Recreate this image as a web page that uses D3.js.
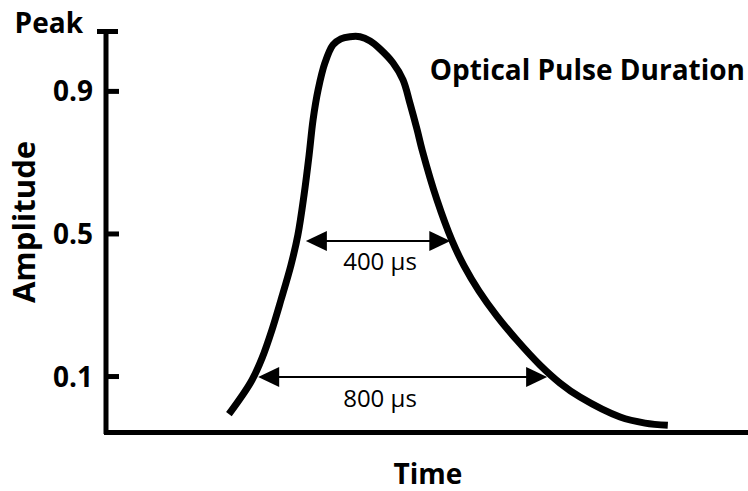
<!DOCTYPE html>
<html><head><meta charset="utf-8">
<script src="https://cdn.jsdelivr.net/npm/d3@7"></script>
<style>body{margin:0;background:#fff}svg{display:block}text{font-family:"Open Sans",sans-serif;fill:#000}</style>
</head><body>
<script>
// pulse curve: time (µs) and normalised amplitude
const timeUs = [343,377,407,435,462,487,515,534,551,565,576,590,609,631,653,678,706,734,761,797,825,844,864,878,919,961,994,1035,1085,1140,1204,1260,1315,1426,1495,1558];
const amplitude = [-0.007,0.041,0.089,0.151,0.229,0.313,0.412,0.496,0.608,0.72,0.819,0.903,0.979,1.029,1.046,1.052,1.052,1.04,1.018,0.979,0.931,0.866,0.791,0.734,0.594,0.479,0.409,0.339,0.268,0.201,0.131,0.08,0.041,-0.015,-0.032,-0.038];
const yTickValues = [0.1, 0.5, 0.9, 1.068];
const yTickLabels = ["0.1", "0.5", "0.9", "Peak"];
const widthLabels = ["400 µs", "800 µs"];
const widthStarts = [556, 424];
const widthDurations = [400, 800];
const widthLevels = [0.479, 0.097];
const titleText = "Optical Pulse Duration";
const xTitle = "Time", yTitle = "Amplitude";

const W = 748, H = 491;
const svg = d3.select("body").append("svg").attr("width", W).attr("height", H);
const x = d3.scaleLinear().domain([0, 1780]).range([105, 748]);
const y = d3.scaleLinear().domain([-0.057, 1.068]).range([432, 31]);

// curve
const pts = timeUs.map((t, i) => [t, amplitude[i]]);
svg.append("path").datum(pts)
  .attr("d", d3.line().x(d => x(d[0])).y(d => y(d[1])).curve(d3.curveCatmullRom.alpha(0.5)))
  .attr("fill", "none").attr("stroke", "#000").attr("stroke-width", 7);

// axes
const yAxis = d3.axisLeft(y).tickValues(yTickValues).tickSize(-13).tickPadding(13)
  .tickFormat((d, i) => yTickLabels[i]);
const gy = svg.append("g").attr("transform", "translate(106,0)").call(yAxis);
gy.select(".domain").remove();
gy.selectAll(".tick line").attr("stroke", "#000").attr("stroke-width", 5);
gy.selectAll(".tick text").attr("font-size", 28).attr("font-weight", "bold").attr("dy", "0.36em")
  .attr("font-family", "Open Sans").attr("fill", "#000");
const peak = gy.selectAll(".tick").filter(d => d === 1.068);
peak.select("line").attr("x1", -9).attr("x2", 12);
peak.select("text").attr("x", -23).attr("dy", "0.07em").attr("font-size", 28);
svg.append("line").attr("x1", 106).attr("x2", 106).attr("y1", 29).attr("y2", 434)
  .attr("stroke", "#000").attr("stroke-width", 5);
svg.append("line").attr("x1", 104).attr("x2", 748).attr("y1", 432.5).attr("y2", 432.5)
  .attr("stroke", "#000").attr("stroke-width", 5);

// width arrows
const labelCenterX = 380;
widthLabels.forEach((lab, i) => {
  const x0 = x(widthStarts[i]), x1 = x(widthStarts[i] + widthDurations[i]), yy = y(widthLevels[i]);
  const g = svg.append("g");
  g.append("line").attr("x1", x0 + 15).attr("x2", x1 - 15).attr("y1", yy).attr("y2", yy)
    .attr("stroke", "#000").attr("stroke-width", 2);
  g.append("path").attr("d", `M${x0},${yy}L${x0 + 21},${yy - 10}L${x0 + 21},${yy + 10}Z`);
  g.append("path").attr("d", `M${x1},${yy}L${x1 - 21},${yy - 10}L${x1 - 21},${yy + 10}Z`);
  g.append("text").attr("x", labelCenterX).attr("y", yy + 29.5)
    .attr("text-anchor", "middle").attr("font-size", 24).text(lab);
});

// titles
svg.append("text").attr("x", 745).attr("y", 80).attr("text-anchor", "end")
  .attr("font-size", 28).attr("font-weight", "bold").text(titleText);
svg.append("text").attr("x", 428).attr("y", 484).attr("text-anchor", "middle")
  .attr("font-size", 28).attr("font-weight", "bold").text(xTitle);
svg.append("text").attr("transform", "translate(35,222) rotate(-90)").attr("text-anchor", "middle")
  .attr("font-size", 31).attr("font-weight", "bold").text(yTitle);
</script>
</body></html>
